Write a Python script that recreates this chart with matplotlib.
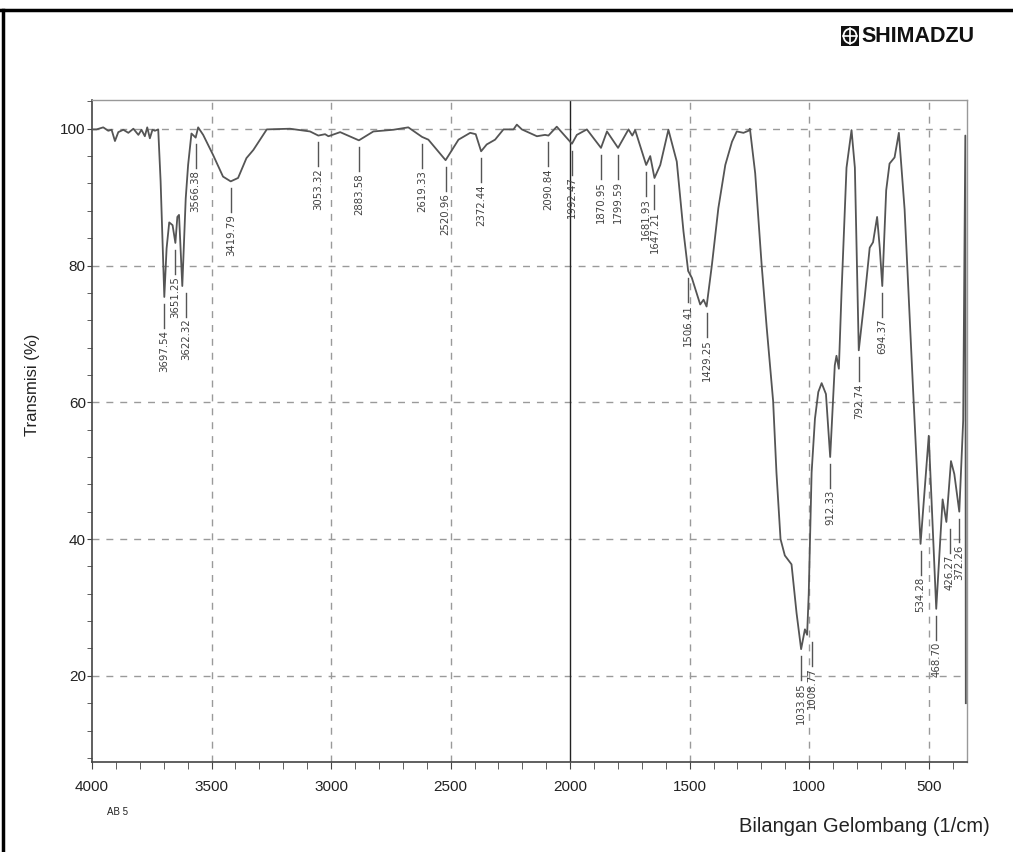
import numpy as np
import matplotlib
matplotlib.use("Agg")
import matplotlib.pyplot as plt
from matplotlib import font_manager
from matplotlib.ticker import MultipleLocator
from matplotlib.lines import Line2D
from matplotlib.patches import Rectangle, Circle

# FTIR spectrum AB 5
wavenumber = [
    4000, 3981, 3953, 3932, 3918, 3904, 3890, 3869, 3848, 3827, 3806, 3793,
    3779, 3769, 3758, 3747, 3737, 3723, 3713, 3697.54, 3688, 3677, 3663,
    3651.25, 3643, 3636, 3622.32, 3608, 3598, 3584, 3566.38, 3556, 3535, 3494,
    3452, 3419.79, 3389, 3354, 3325, 3269, 3172, 3088, 3053.32, 3025, 3011,
    2962, 2883.58, 2823, 2739, 2677, 2619.33, 2593, 2520.96, 2467, 2418, 2395,
    2372.44, 2349, 2314, 2279, 2237, 2223, 2202, 2139, 2105, 2090.84, 2056,
    1992.47, 1972, 1930, 1870.95, 1846, 1799.59, 1756, 1740, 1728, 1681.93,
    1665, 1647.21, 1623, 1589, 1554, 1526, 1506.41, 1491, 1456, 1442, 1429.25,
    1407, 1380, 1351, 1323, 1303, 1275, 1254, 1248, 1226, 1199, 1178, 1151,
    1137, 1120, 1102, 1074, 1053, 1033.85, 1018, 1008.77, 1002, 990, 976, 962,
    948, 930, 912.33, 893, 886, 876, 865, 844, 823, 809, 792.74, 768, 747, 733,
    716, 705, 694.37, 678, 664, 643, 625, 601, 567, 534.28, 500, 468.70, 442,
    426.27, 407, 393, 372.26, 356, 347, 345,
]
transmittance = [
    99.9, 99.9, 100.2, 99.7, 99.85, 98.2, 99.5, 99.85, 99.4, 100.0, 99.1, 99.85,
    98.9, 100.2, 98.6, 99.85, 99.7, 99.9, 92.3, 75.4, 82.5, 86.3, 85.9,
    83.3, 87.1, 87.4, 77.0, 89.8, 94.7, 99.3, 98.7, 100.2, 99.1, 96.2,
    93.0, 92.3, 92.8, 95.7, 96.9, 99.9, 100.0, 99.6, 99.0, 99.2, 98.9,
    99.5, 98.3, 99.6, 99.85, 100.2, 98.8, 98.4, 95.4, 98.4, 99.4, 99.2,
    96.7, 97.7, 98.4, 99.9, 99.9, 100.6, 99.9, 98.9, 99.1, 99.0, 100.3,
    97.8, 99.1, 99.9, 97.2, 99.6, 97.2, 99.9, 99.0, 99.8, 94.7,
    96.0, 92.8, 94.7, 99.85, 95.2, 85.0, 79.2, 78.2, 74.3, 75.0, 74.0,
    80.1, 88.4, 94.7, 98.1, 99.6, 99.4, 99.7, 100.0, 93.5, 80.1, 71.0, 60.2,
    49.7, 40.0, 37.6, 36.3, 29.2, 23.9, 26.8, 26.0, 32.0, 49.7, 57.6, 61.5,
    62.8, 61.2, 52.0, 65.4, 66.8, 64.9, 75.9, 94.3, 99.8, 94.3, 67.6, 75.3, 82.6, 83.4,
    87.1, 82.6, 77.0, 91.0, 94.9, 95.8, 99.4, 88.2, 62.9, 39.3, 55.1, 29.8, 45.8,
    42.5, 51.4, 49.5, 44.0, 57.3, 99.0, 16.0,
]

# marked peaks
peak_wn = [
    3697.54, 3651.25, 3622.32, 3566.38, 3419.79, 3053.32, 2883.58, 2619.33,
    2520.96, 2372.44, 2090.84, 1992.47, 1870.95, 1799.59, 1681.93, 1647.21,
    1506.41, 1429.25, 1033.85, 1008.77, 912.33, 792.74, 694.37, 534.28,
    468.70, 426.27, 372.26,
]
# small sideways nudge (in wavenumber) where labels would collide
label_shift = {3622.32: -15, 1008.77: -22, 426.27: -14}


def pick_font(names):
    for n in names:
        try:
            font_manager.findfont(n, fallback_to_default=False)
            return n
        except Exception:
            continue
    return "DejaVu Sans"


sans = pick_font(["Liberation Sans", "Arial"])
narrow = pick_font(["Liberation Sans Narrow", "Liberation Sans"])
plt.rcParams["font.family"] = sans

fig = plt.figure(figsize=(10.13, 8.52), dpi=100)
ax = fig.add_axes([92 / 1013, 1 - 762 / 852, 875 / 1013, 662 / 852])

wn = np.array(wavenumber)
tr = np.array(transmittance)
ax.plot(wn, tr, color="#555555", lw=1.3, zorder=3)

ax.set_xlim(4000, 340)
ax.set_ylim(7.4, 104.2)

# grid
for g in [3500, 3000, 2500, 1500, 1000, 500]:
    ax.axvline(g, color="#9a9a9a", lw=1, ls=(0, (5, 5)), zorder=1)
for g in [20, 40, 60, 80, 100]:
    ax.axhline(g, color="#9a9a9a", lw=1, ls=(0, (5, 5)), zorder=1)
ax.axvline(2000, color="#222222", lw=1, zorder=2)

ax.xaxis.set_major_locator(MultipleLocator(500))
ax.xaxis.set_minor_locator(MultipleLocator(100))
ax.yaxis.set_major_locator(MultipleLocator(20))
ax.yaxis.set_minor_locator(MultipleLocator(4))
ax.set_xticks([4000, 3500, 3000, 2500, 2000, 1500, 1000, 500])
ax.set_yticks([20, 40, 60, 80, 100])
ax.tick_params(axis="both", which="both", direction="out", color="#444444")
ax.tick_params(axis="x", which="both", length=5, pad=8)
ax.tick_params(axis="y", which="both", length=3.5, pad=1)
for lab in ax.get_xticklabels() + ax.get_yticklabels():
    lab.set_fontfamily(narrow)
    lab.set_fontsize(11)
    lab.set_color("#222222")

for s in ["left", "bottom"]:
    ax.spines[s].set_color("#444444")
    ax.spines[s].set_linewidth(1.2)
for s in ["top", "right"]:
    ax.spines[s].set_color("#999999")
    ax.spines[s].set_linewidth(1.0)

ax.set_ylabel("Transmisi (%)", fontsize=12, color="#222222")
ax.yaxis.set_label_coords(-0.059, 0.57)

# peak labels
wn_inc, tr_inc = wn[::-1], tr[::-1]
for p in peak_wn:
    t = np.interp(p, wn_inc, tr_inc)
    x = p + label_shift.get(p, 0)
    ax.plot([x, x], [t - 1.0, t - 4.5], color="#555555", lw=1, zorder=3)
    ax.text(x, t - 4.8, f"{p:.2f}", rotation=90, ha="center", va="top",
            fontsize=7.3, family="DejaVu Sans", color="#404040", zorder=4)

fig.text(990 / 1013, 1 - 826 / 852, "Bilangan Gelombang (1/cm)", ha="right",
         va="center", fontsize=14.5, color="#222222")
fig.text(107 / 1013, 1 - 812 / 852, "AB 5", ha="left", va="center",
         fontsize=7, color="#222222")

# logo
fig.text(861 / 1013, 1 - 36 / 852, "SHIMADZU", ha="left", va="center",
         fontsize=15.5, fontweight="heavy", color="#111111")
lax = fig.add_axes([841 / 1013, 1 - 46 / 852, 18 / 1013, 20 / 852])
lax.set_xlim(0, 1)
lax.set_ylim(0, 1)
lax.axis("off")
lax.add_patch(Rectangle((0, 0), 1, 1, color="#111111"))
lax.add_patch(Circle((0.5, 0.5), 0.36, fill=False, ec="white", lw=1.3))
lax.plot([0.5, 0.5], [0.12, 0.88], color="white", lw=1.2)
lax.plot([0.12, 0.88], [0.5, 0.5], color="white", lw=1.2)

# page frame of the scanned print-out
fig.add_artist(Line2D([0, 1], [1 - 10 / 852, 1 - 10 / 852], color="black",
                      lw=2.5, transform=fig.transFigure))
fig.add_artist(Line2D([3 / 1013, 3 / 1013], [0, 1 - 10 / 852], color="black",
                      lw=2.5, transform=fig.transFigure))

fig.savefig("out.png", dpi=100)
